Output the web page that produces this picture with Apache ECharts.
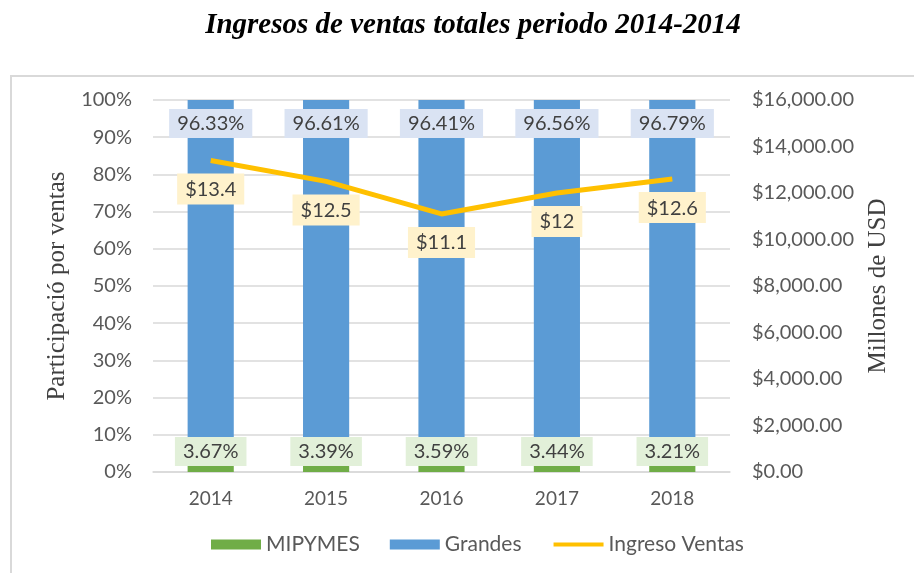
<!DOCTYPE html>
<html>
<head>
<meta charset="utf-8">
<script src="https://cdn.jsdelivr.net/npm/echarts@6/dist/echarts.min.js"></script>
<style>
  html, body { margin: 0; padding: 0; background: #fff; }
  #chart { width: 914px; height: 573px; }
</style>
</head>
<body>
<div id="chart"></div>
<script>
var years = ['2014', '2015', '2016', '2017', '2018'];
var mipymes = [3.67, 3.39, 3.59, 3.44, 3.21];
var grandes = [96.33, 96.61, 96.41, 96.56, 96.79];
var ventas = [13400, 12500, 11100, 12000, 12600]; // millones de USD

var font = 'Lato, "Open Sans", sans-serif';
var serif = '"Liberation Serif", serif';
var myChart = echarts.init(document.getElementById('chart'));

function money(v) {
    return '$' + v.toLocaleString('en-US', { minimumFractionDigits: 2, maximumFractionDigits: 2 });
}

function pct(p) {
    return p.value.toFixed(2) + '%';
}

var option = {
    animation: false,
    title: {
        text: 'Ingresos de ventas totales periodo 2014-2014',
        left: 468,
        textAlign: 'center',
        top: 6,
        textStyle: { fontFamily: serif, fontStyle: 'italic', fontWeight: 'bold', fontSize: 29, color: '#000' }
    },
    graphic: [{
        type: 'rect',
        shape: { x: 11, y: 76, width: 910, height: 510 },
        style: { fill: 'none', stroke: '#D9D9D9', lineWidth: 2 },
        silent: true
    }],
    legend: {
        bottom: 13,
        left: 206,
        itemWidth: 50,
        itemHeight: 10,
        itemGap: 30,
        textStyle: { fontFamily: font, fontSize: 21, color: '#595959' },
        data: [
            { name: 'MIPYMES', icon: 'rect' },
            { name: 'Grandes', icon: 'rect' },
            { name: 'Ingreso Ventas', itemStyle: { opacity: 0 }, lineStyle: { width: 4 } }
        ]
    },
    grid: { left: 153, right: 184, top: 100, bottom: 101 },
    xAxis: {
        type: 'category',
        data: years,
        axisTick: { show: false },
        axisLine: { lineStyle: { color: '#D9D9D9', width: 1.5 } },
        axisLabel: { fontFamily: font, fontSize: 19, color: '#595959', margin: 17 }
    },
    yAxis: [{
        type: 'value',
        min: 0, max: 100, interval: 10,
        name: 'Participació por ventas',
        nameLocation: 'middle',
        nameGap: 81,
        nameTextStyle: { fontFamily: serif, fontSize: 25, color: '#404040' },
        axisLabel: { formatter: '{value}%', fontFamily: font, fontSize: 20, color: '#595959', margin: 21 },
        splitLine: { lineStyle: { color: '#D9D9D9', width: 1.5 } }
    }, {
        type: 'value',
        min: 0, max: 16000, interval: 2000,
        name: 'Millones de USD',
        nameLocation: 'middle',
        nameGap: 136,
        nameRotate: 90,
        nameTextStyle: { fontFamily: serif, fontSize: 25, color: '#404040' },
        axisLabel: { formatter: money, fontFamily: font, fontSize: 20, color: '#595959', margin: 22 },
        splitLine: { show: false }
    }],
    series: [{
        name: 'MIPYMES',
        type: 'bar',
        stack: 'part',
        barWidth: '40%',
        data: mipymes,
        itemStyle: { color: '#70AD47' },
        label: {
            show: true,
            position: 'insideBottom',
            distance: 6,
            formatter: pct,
            fontFamily: font, fontSize: 20, color: '#404040',
            backgroundColor: '#E2F0D9',
            padding: [5, 8, 4, 8]
        }
    }, {
        name: 'Grandes',
        type: 'bar',
        stack: 'part',
        data: grandes,
        itemStyle: { color: '#5B9BD5' },
        label: {
            show: true,
            position: 'insideTop',
            distance: 9,
            formatter: pct,
            fontFamily: font, fontSize: 20, color: '#404040',
            backgroundColor: '#DAE3F3',
            padding: [5, 8, 4, 8]
        }
    }, {
        name: 'Ingreso Ventas',
        type: 'line',
        yAxisIndex: 1,
        data: ventas,
        symbol: 'circle',
        symbolSize: 0,
        showSymbol: true,
        lineStyle: { color: '#FFC000', width: 5 },
        itemStyle: { color: '#FFC000' },
        z: 5,
        label: {
            show: true,
            position: 'bottom',
            distance: 13,
            formatter: function (p) { return '$' + (p.value / 1000); },
            fontFamily: font, fontSize: 20, color: '#404040',
            backgroundColor: '#FFF2CC',
            padding: [6, 8, 5, 8]
        }
    }]
};

myChart.setOption(option);
</script>
</body>
</html>
